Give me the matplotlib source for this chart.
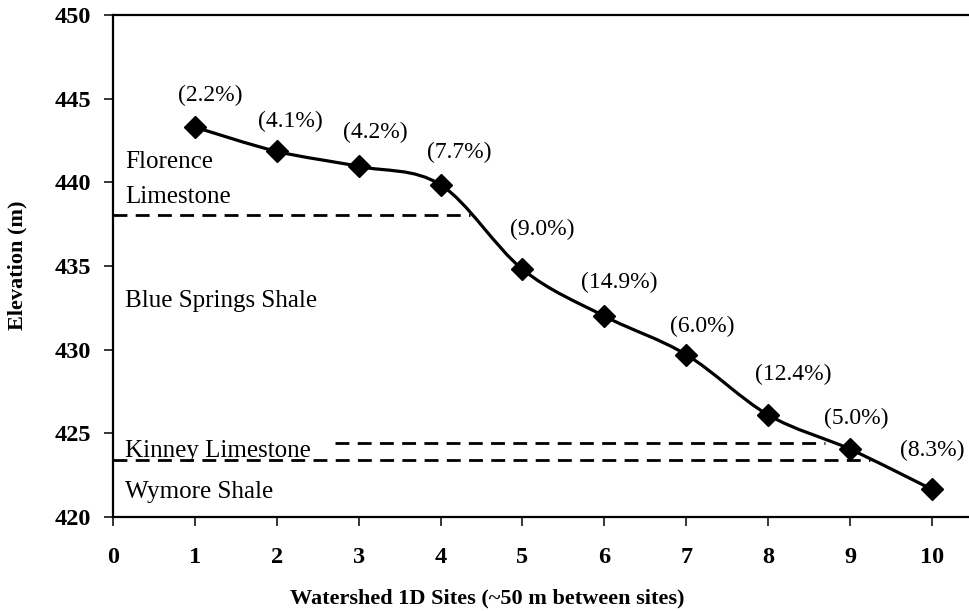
import numpy as np
import matplotlib
matplotlib.use("Agg")
import matplotlib.pyplot as plt
from matplotlib.path import Path
from matplotlib.patches import PathPatch

plt.rcParams["font.family"] = ["Liberation Serif", "DejaVu Serif"]

# Elevation along the watershed transect
sites = [1, 2, 3, 4, 5, 6, 7, 8, 9, 10]
elevation = [443.3, 441.85, 440.95, 439.85, 434.8, 432.0, 429.7, 426.1, 424.05, 421.65]
slope_labels = ["(2.2%)", "(4.1%)", "(4.2%)", "(7.7%)", "(9.0%)",
                "(14.9%)", "(6.0%)", "(12.4%)", "(5.0%)", "(8.3%)"]
# label offsets from each marker, in pixels
label_dx = [15, 14, 17, 19, 20, 15, 16, 25, 6, 0]
label_dy = [32, 30, 34, 32, 40, 34, 28, 40, 31, 39]

# Formation contacts: (elevation, x start, x end)
contact_elev = [438.05, 424.4, 423.4]
contact_x0 = [0.0, 2.71, 0.0]
contact_x1 = [4.36, 8.69, 9.24]

formations = ["Florence", "Limestone", "Blue Springs Shale", "Kinney Limestone", "Wymore Shale"]
formation_y = [440.85, 438.75, 432.55, 423.6, 421.15]


def smooth_path(x, y, tension=6.0):
    # cubic Bezier through the points (Catmull-Rom style control points)
    pts = np.column_stack([x, y]).astype(float)
    n = len(pts)
    verts = [pts[0]]
    codes = [Path.MOVETO]
    for i in range(n - 1):
        p0 = pts[max(i - 1, 0)]
        p1 = pts[i]
        p2 = pts[i + 1]
        p3 = pts[min(i + 2, n - 1)]
        c1 = p1 + (p2 - p0) / tension
        c2 = p2 - (p3 - p1) / tension
        verts += [c1, c2, p2]
        codes += [Path.CURVE4] * 3
    return Path(verts, codes)


fig = plt.figure(figsize=(9.7, 6.11), dpi=100)
ax = fig.add_axes([113 / 970, 94 / 611, 857 / 970, 502 / 611])

ax.add_patch(PathPatch(smooth_path(sites, elevation), facecolor="none",
                       edgecolor="black", lw=2.3, zorder=3))
ax.plot(sites, elevation, linestyle="none", marker="D", markersize=11,
        color="black", zorder=4)

for x, y, s, dx, dy in zip(sites, elevation, slope_labels, label_dx, label_dy):
    ax.annotate(s, (x, y), xytext=(dx, dy), textcoords="offset pixels",
                ha="center", va="center", fontsize=17, annotation_clip=False)

for y, x0, x1 in zip(contact_elev, contact_x0, contact_x1):
    ax.plot([x0, x1], [y, y], color="black", lw=2.0, dashes=(5, 3), zorder=2)

for name, y in zip(formations, formation_y):
    ax.text(0.147, y, name, fontsize=18, ha="left", va="baseline")

ax.set_xlim(0, 857 / 81.9)
ax.set_ylim(420, 450)
ax.set_xticks(range(0, 11))
ax.set_yticks(range(420, 451, 5))

ax.spines["right"].set_visible(False)
for side in ["left", "bottom", "top"]:
    ax.spines[side].set_linewidth(1.6)

ax.tick_params(axis="both", direction="out", length=6.5, width=1.1,
               labelsize=17.5)
ax.tick_params(axis="x", pad=15, top=False)
ax.tick_params(axis="y", pad=9)
for lbl in ax.get_xticklabels() + ax.get_yticklabels():
    lbl.set_fontweight("bold")

ax.set_xlabel("Watershed 1D Sites (~50 m between sites)", fontsize=16, fontweight="bold")
ax.xaxis.set_label_coords((487 - 113) / 857, (517 - 598) / 502)
ax.xaxis.label.set_va("center")
ax.set_ylabel("Elevation (m)", fontsize=16, fontweight="bold")
ax.yaxis.set_label_coords((17 - 113) / 857, (517 - 265) / 502)
ax.yaxis.label.set_va("center")

fig.savefig("out.png", dpi=100)
